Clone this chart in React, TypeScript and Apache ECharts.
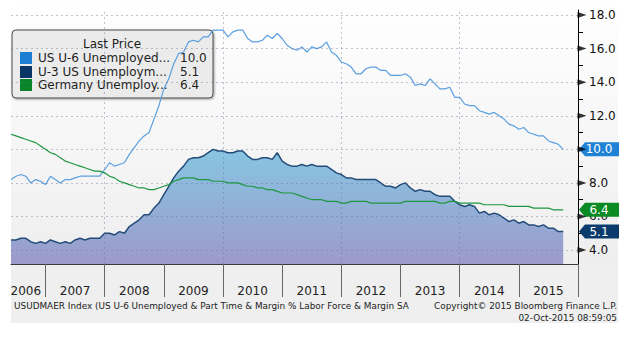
import React, { useEffect, useRef } from "react";
import * as echarts from "echarts";

// Monthly plot positions, Jun 2006 .. Jan 2016 (each value plotted at month end)
const START_YEAR = 2006;
const START_MONTH = 6;
const N_CATS = 116;
const categories: string[] = [];
for (let k = 0; k < N_CATS; k++) {
  const m0 = START_MONTH - 1 + k;
  const y = START_YEAR + Math.floor(m0 / 12);
  const m = (m0 % 12) + 1;
  categories.push(`${y}-${String(m).padStart(2, "0")}`);
}

const u6Values = [
  8.2, 8.4, 8.5, 8.4, 8.0, 8.2, 8.1, 7.9,
  8.4, 8.2, 8.0, 8.2, 8.2, 8.3, 8.4, 8.4, 8.4, 8.4, 8.4, 8.8,
  9.2, 9.0, 9.1, 9.2, 9.7, 10.1, 10.5, 10.8, 11.0, 11.8, 12.6, 13.6,
  14.2, 15.1, 15.7, 15.8, 16.4, 16.5, 16.4, 16.7, 16.7, 17.1, 17.1, 17.1,
  16.7, 17.0, 17.1, 17.1, 16.6, 16.4, 16.4, 16.5, 16.8, 16.6, 16.9, 16.6,
  16.2, 16.0, 15.9, 16.1, 15.8, 16.1, 16.0, 16.1, 16.4, 15.8, 15.6, 15.2,
  15.1, 14.9, 14.5, 14.5, 14.8, 14.9, 14.9, 14.7, 14.7, 14.4, 14.4, 14.4,
  14.5, 14.3, 13.8, 13.9, 13.8, 14.2, 13.9, 13.6, 13.6, 13.7, 13.1, 13.1,
  12.7, 12.6, 12.6, 12.3, 12.2, 12.1, 12.2, 12.0, 11.8, 11.5, 11.4, 11.2,
  11.3, 11.0, 10.9, 10.8, 10.8, 10.5, 10.4, 10.3, 10.0,
];

const u3Values = [
  4.6, 4.6, 4.7, 4.7, 4.5, 4.4, 4.5, 4.4,
  4.6, 4.5, 4.4, 4.5, 4.4, 4.6, 4.7, 4.6, 4.7, 4.7, 4.7, 5.0,
  5.0, 4.9, 5.1, 5.0, 5.4, 5.6, 5.8, 6.1, 6.1, 6.5, 6.8, 7.3,
  7.8, 8.3, 8.7, 9.0, 9.4, 9.5, 9.5, 9.6, 9.8, 10.0, 9.9, 9.9,
  9.8, 9.8, 9.9, 9.9, 9.6, 9.4, 9.4, 9.5, 9.5, 9.4, 9.8, 9.3,
  9.1, 9.0, 9.0, 9.1, 9.0, 9.1, 9.0, 9.0, 9.0, 8.8, 8.6, 8.5,
  8.3, 8.3, 8.2, 8.2, 8.2, 8.2, 8.2, 8.0, 7.8, 7.8, 7.7, 7.9,
  8.0, 7.7, 7.5, 7.6, 7.5, 7.5, 7.3, 7.2, 7.2, 7.2, 6.9, 6.7,
  6.6, 6.7, 6.6, 6.2, 6.3, 6.1, 6.2, 6.1, 5.9, 5.7, 5.8, 5.6,
  5.7, 5.5, 5.5, 5.4, 5.5, 5.3, 5.3, 5.1, 5.1,
];

const germanyValues = [
  10.9, 10.8, 10.7, 10.6, 10.5, 10.4, 10.2, 10.0, 9.8, 9.7, 9.5, 9.3,
  9.2, 9.1, 9.0, 8.9, 8.8, 8.7, 8.7, 8.6, 8.4, 8.3, 8.1, 8.0,
  7.9, 7.8, 7.7, 7.7, 7.6, 7.6, 7.7, 7.8, 7.9, 8.1, 8.2, 8.3,
  8.3, 8.3, 8.2, 8.2, 8.2, 8.1, 8.1, 8.1, 8.0, 8.0, 8.0, 7.9,
  7.8, 7.8, 7.7, 7.7, 7.6, 7.6, 7.5, 7.4, 7.4, 7.4, 7.3, 7.2,
  7.1, 7.0, 7.0, 7.0, 6.9, 6.9, 6.9, 6.8, 6.8, 6.9, 6.9, 6.9,
  6.9, 6.8, 6.8, 6.8, 6.8, 6.8, 6.8, 6.8, 6.9, 6.9, 6.9, 6.9,
  6.9, 6.9, 6.9, 6.8, 6.8, 6.9, 6.9, 6.8, 6.8, 6.8, 6.8, 6.8,
  6.7, 6.7, 6.7, 6.7, 6.7, 6.6, 6.6, 6.6, 6.6, 6.6, 6.5, 6.5,
  6.5, 6.5, 6.4, 6.4, 6.4,
];

const seriesNames = ["US U-6 Unemployed...", "U-3 US Unemploym...", "Germany Unemploy..."];
const seriesColors = ["#1c7fd2", "#0b3566", "#0a8428"];
const majorTicks = [4, 6, 8, 10, 12, 14, 16, 18];
const tickLabels = [4, 6, 8, 12, 14, 16, 18]; // 10.0 is hidden behind the U-6 price tag
const minorTicks = [5, 7, 9, 11, 13, 15, 17];
const gridMonths = ["2008-01", "2010-01", "2012-01", "2014-01"];
const footerLeft = "USUDMAER Index (US U-6 Unemployed & Part Time & Margin % Labor Force & Margin SA";
const footerRight1 = "Copyright\u00a9 2015 Bloomberg Finance L.P.";
const footerRight2 = "02-Oct-2015 08:59:05";

const FONT = "DejaVu Sans";
const Y_MIN = 3.17;
const Y_MAX = 18.3;

function tag(value: number, color: string) {
  return {
    silent: true,
    symbol: "path://M0,7L6,0L40,0L40,14L6,14Z",
    symbolSize: [40, 14],
    symbolOffset: [21, 0],
    itemStyle: { color },
    label: {
      show: true,
      position: "inside",
      color: "#fff",
      fontSize: 12,
      fontFamily: FONT,
      formatter: () => value.toFixed(1),
    },
    data: [{ coord: [categories[N_CATS - 1], value] }],
  };
}

export default function App() {
  const ref = useRef<HTMLDivElement>(null);
  useEffect(() => {
    const chart = echarts.init(ref.current!, null, { renderer: "svg" });
    const lastU6 = u6Values[u6Values.length - 1];
    const lastU3 = u3Values[u3Values.length - 1];
    const lastDe = germanyValues[germanyValues.length - 1];
    const lasts = [lastU6, lastU3, lastDe];
    const gridLine = { type: [2, 3], color: "rgba(105,115,150,0.42)", width: 1 };

    const legendEls: any[] = [
      {
        type: "rect",
        z: 3,
        shape: { x: 12, y: 30, width: 201, height: 68, r: 4 },
        style: {
          fill: "#ebebeb",
          stroke: "#4a4a4a",
          lineWidth: 1,
          shadowBlur: 2,
          shadowColor: "rgba(0,0,0,0.35)",
          shadowOffsetX: 1,
          shadowOffsetY: 1,
        },
      },
      {
        type: "text",
        z: 3,
        x: 112,
        y: 44,
        style: {
          text: "Last Price",
          align: "center",
          verticalAlign: "middle",
          font: `12px '${FONT}'`,
          fill: "#1e1e1e",
        },
      },
    ];
    const rowYs = [58, 72, 85];
    seriesNames.forEach((name, i) => {
      legendEls.push({
        type: "rect",
        z: 3,
        shape: { x: 20, y: rowYs[i] - 6, width: 12, height: 12 },
        style: { fill: seriesColors[i] },
      });
      legendEls.push({
        type: "text",
        z: 3,
        x: 38,
        y: rowYs[i],
        style: {
          text: name,
          verticalAlign: "middle",
          font: `12px '${FONT}'`,
          fill: "#1e1e1e",
        },
      });
      legendEls.push({
        type: "text",
        z: 3,
        x: 180,
        y: rowYs[i],
        style: {
          text: lasts[i].toFixed(1),
          verticalAlign: "middle",
          font: `12px '${FONT}'`,
          fill: "#1e1e1e",
        },
      });
    });

    const option: any = {
      animation: false,
      backgroundColor: "#ffffff",
      grid: { left: 11, right: 56, top: 10, bottom: 73, containLabel: false },
      xAxis: {
        type: "category",
        data: categories,
        boundaryGap: false,
        axisLine: { show: true, lineStyle: { color: "#3a3a3a", width: 1 } },
        axisTick: {
          show: true,
          interval: (i: number) => i % 12 === 7,
          length: 33,
          lineStyle: { color: "#666", width: 1 },
        },
        axisLabel: {
          show: true,
          interval: (i: number) => i === 3 || (i > 3 && i % 12 === 1),
          formatter: (v: string) => v.slice(0, 4),
          margin: 21,
          fontSize: 12,
          fontFamily: FONT,
          color: "#222",
          hideOverlap: false,
        },
        splitLine: { show: false },
      },
      yAxis: {
        type: "value",
        position: "right",
        min: Y_MIN,
        max: Y_MAX,
        axisLine: { show: true, lineStyle: { color: "#000", width: 1 } },
        axisTick: {
          show: true,
          customValues: minorTicks,
          length: 5,
          lineStyle: { color: "#000", width: 1 },
        },
        axisLabel: {
          show: true,
          customValues: tickLabels,
          formatter: (v: number) => v.toFixed(1),
          margin: 11,
          fontSize: 12,
          fontFamily: FONT,
          color: "#111",
        },
        splitLine: { show: false },
      },
      graphic: [
        {
          type: "rect",
          z: -10,
          shape: { x: 11, y: 0, width: 607, height: 264 },
          style: {
            fill: new echarts.graphic.LinearGradient(0, 0, 0, 1, [
              { offset: 0, color: "#ffffff" },
              { offset: 1, color: "#eeeeee" },
            ]),
          },
        },
        {
          type: "rect",
          z: -10,
          shape: { x: 11, y: 264, width: 607, height: 59 },
          style: { fill: "#efefef" },
        },
        ...legendEls,
        {
          type: "text",
          z: 3,
          x: 14,
          y: 306,
          style: {
            text: footerLeft,
            verticalAlign: "middle",
            font: `8.9px '${FONT}'`,
            fill: "#222",
          },
        },
        {
          type: "text",
          z: 3,
          x: 617,
          y: 306,
          style: {
            text: footerRight1,
            align: "right",
            verticalAlign: "middle",
            font: `8.9px '${FONT}'`,
            fill: "#222",
          },
        },
        {
          type: "text",
          z: 3,
          x: 617,
          y: 318,
          style: {
            text: footerRight2,
            align: "right",
            verticalAlign: "middle",
            font: `8.9px '${FONT}'`,
            fill: "#222",
          },
        },
      ],
      series: [
        {
          name: seriesNames[1],
          type: "line",
          z: 1,
          data: u3Values,
          showSymbol: false,
          lineStyle: { color: "#234c7a", width: 1.5 },
          areaStyle: {
            color: new echarts.graphic.LinearGradient(0, 0, 0, 1, [
              { offset: 0, color: "#88c5e2" },
              { offset: 1, color: "#9c9acb" },
            ]),
            opacity: 1,
          },
          markPoint: tag(lastU3, "#0b3a6c"),
        },
        {
          name: "grid",
          type: "line",
          z: 2,
          data: [],
          silent: true,
          markLine: {
            silent: true,
            symbol: ["none", "none"],
            label: { show: false },
            lineStyle: gridLine,
            data: [
              ...majorTicks.map((v) => ({ yAxis: v })),
              ...gridMonths.map((m) => ({ xAxis: m })),
            ],
          },
        },
        {
          name: seriesNames[0],
          type: "line",
          z: 4,
          data: u6Values,
          showSymbol: false,
          lineStyle: { color: "#5a9fe0", width: 1.2 },
          markPoint: tag(lastU6, "#1f82d4"),
        },
        {
          name: seriesNames[2],
          type: "line",
          z: 5,
          data: germanyValues,
          showSymbol: false,
          lineStyle: { color: "#1e9640", width: 1.2 },
          markPoint: tag(lastDe, "#0a8a22"),
        },
        {
          name: "ticks",
          type: "scatter",
          z: 5,
          clip: false,
          silent: true,
          symbol: "triangle",
          symbolSize: [6, 9],
          symbolRotate: -90,
          symbolOffset: [4, 0],
          itemStyle: { color: "#000" },
          data: majorTicks.map((v) => [categories[N_CATS - 1], v]),
        },
      ],
    };
    chart.setOption(option);
    return () => chart.dispose();
  }, []);
  return (
    <div
      ref={ref}
      style={{ position: "fixed", left: 0, top: 0, width: 634, height: 337 }}
    />
  );
}
